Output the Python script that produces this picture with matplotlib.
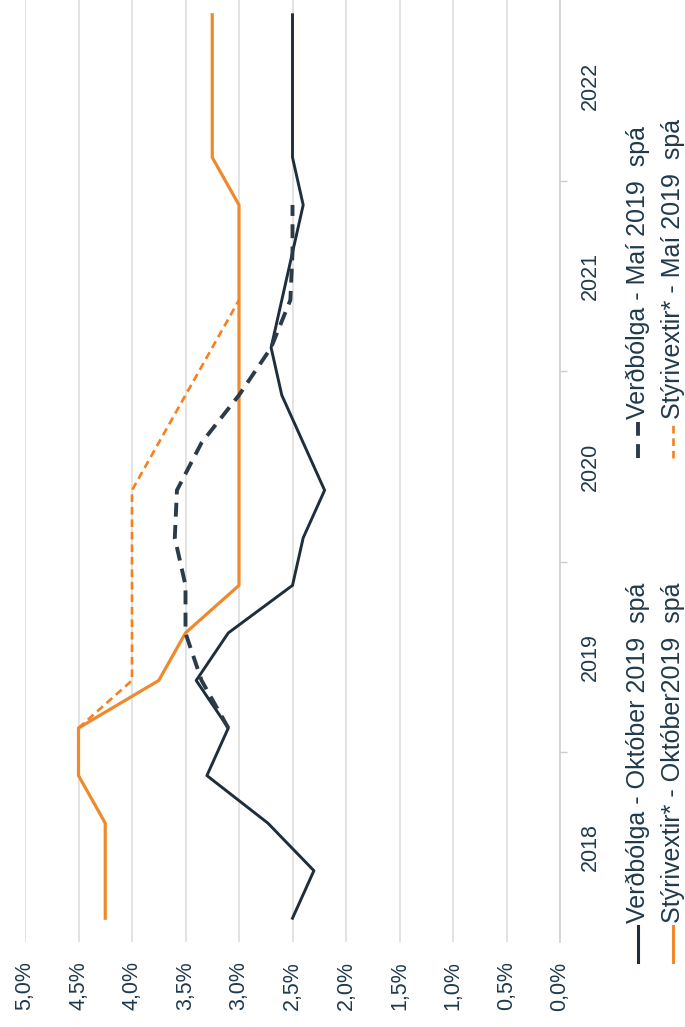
import numpy as np
import matplotlib
matplotlib.use("Agg")
import matplotlib.pyplot as plt
from matplotlib.lines import Line2D

plt.rcParams['font.family'] = ['Liberation Sans', 'DejaVu Sans']
plt.rcParams['lines.scale_dashes'] = False

# ársfjórðungar 2018Q1 .. 2022Q4
quarters = np.arange(20)
years = ["2018", "2019", "2020", "2021", "2022"]
year_pos = [1.5, 5.5, 9.5, 13.5, 17.5]
year_breaks = [3.5, 7.5, 11.5, 15.5]

nan = np.nan
verdbolga_okt = [2.5, 2.3, 2.73, 3.3, 3.1, 3.4, 3.1, 2.5, 2.4, 2.2,
                 2.4, 2.6, 2.7, 2.6, 2.5, 2.4, 2.5, 2.5, 2.5, 2.5]
styrivextir_okt = [4.25, 4.25, 4.25, 4.5, 4.5, 3.75, 3.5, 3.0, 3.0, 3.0,
                   3.0, 3.0, 3.0, 3.0, 3.0, 3.0, 3.25, 3.25, 3.25, 3.25]
verdbolga_mai = [nan, nan, nan, nan, 3.1, 3.35, 3.5, 3.5, 3.6, 3.58,
                 3.35, 3.0, 2.7, 2.52, 2.5, 2.5, nan, nan, nan, nan]
styrivextir_mai = [nan, nan, nan, nan, 4.5, 4.0, 4.0, 4.0, 4.0, 4.0,
                   3.75, 3.5, 3.25, 3.0, nan, nan, nan, nan, nan, nan]

value_ticks = np.arange(0, 5.01, 0.5)
value_labels = [("%.1f%%" % v).replace(".", ",") for v in value_ticks]

labels = ["Verðbólga - Október 2019  spá", "Verðbólga - Maí 2019  spá",
          "Stýrivextir* - Október2019  spá", "Stýrivextir* - Maí 2019  spá"]

DARK = "#1f2e3d"
DARK_DASH = "#2b3b4a"
ORANGE = "#ef8a2c"
ORANGE_DASH = "#f5801c"
TEXT = "#1f3a4c"

W, H = 685, 1027
fig = plt.figure(figsize=(W / 100, H / 100), dpi=100)
ax = fig.add_axes([25 / W, 1 - 942 / H, 535 / W, 951 / H])

ax.plot(verdbolga_okt, quarters, color=DARK, lw=2.1, zorder=3)
ax.plot(styrivextir_okt, quarters, color=ORANGE, lw=2.3, zorder=3)
l_vm, = ax.plot(verdbolga_mai, quarters, color=DARK_DASH, lw=2.8, zorder=4)
l_vm.set_dashes([10, 6])
l_sm, = ax.plot(styrivextir_mai, quarters, color=ORANGE_DASH, lw=1.9, zorder=4)
l_sm.set_dashes([5.5, 3.5])

ax.set_xlim(5.0, 0.0)
ax.set_ylim(-0.5, 19.5)

ax.set_xticks(value_ticks)
ax.set_xticklabels(value_labels, rotation=90)
ax.tick_params(axis='x', length=0, pad=14, labelsize=15.5, labelcolor=TEXT)
ax.xaxis.grid(True, color="#e0e0e0", lw=1.3)
ax.set_axisbelow(True)

ax.yaxis.tick_right()
ax.set_yticks(year_pos)
ax.set_yticklabels(years, rotation=90, va='center')
ax.set_yticks(year_breaks, minor=True)
ax.tick_params(axis='y', which='major', length=0, pad=14, labelsize=15.5, labelcolor=TEXT)
ax.tick_params(axis='y', which='minor', length=5, width=1, color="#cccccc")

for side in ['top', 'bottom', 'left']:
    ax.spines[side].set_visible(False)
ax.spines['right'].set_color("#d0d0d0")
ax.spines['right'].set_linewidth(1.2)

# legend, snúin um 90 gráður eins og myndin
def legend_entry(x, y_bottom, label, color, lw, dashes=None):
    line = Line2D([x / W, x / W], [1 - y_bottom / H, 1 - (y_bottom - 36) / H],
                  transform=fig.transFigure, color=color, lw=lw)
    if dashes:
        line.set_dashes(dashes)
    fig.add_artist(line)
    fig.text(x / W, 1 - (y_bottom - 39) / H, label, rotation=90, ha='center',
             va='bottom', fontsize=18, color=TEXT)

legend_entry(638, 962, labels[0], DARK, 2.2)
legend_entry(638, 458, labels[1], DARK_DASH, 2.8, [10, 6])
legend_entry(673, 962, labels[2], ORANGE, 2.2)
legend_entry(673, 458, labels[3], ORANGE_DASH, 1.9, [5.5, 3.5])

fig.savefig("out.png", dpi=100)
